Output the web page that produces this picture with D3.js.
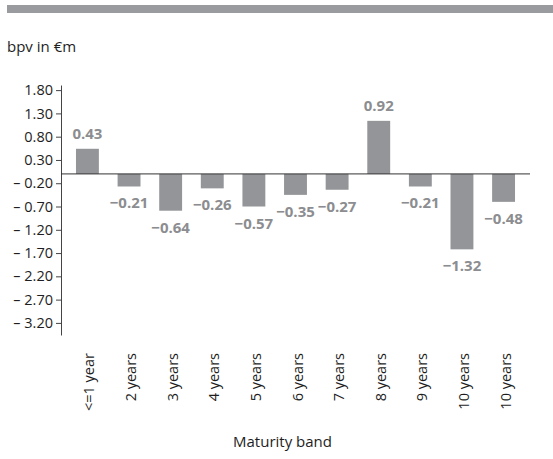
<!DOCTYPE html>
<html>
<head>
<meta charset="utf-8">
<script src="https://cdn.jsdelivr.net/npm/d3@7"></script>
<style>
  body { margin: 0; background: #fff; }
  svg { display: block; }
</style>
</head>
<body>
<div id="chart"></div>
<script>
// maturity bands
var bands = ['<=1 year', '2 years', '3 years', '4 years', '5 years', '6 years',
    '7 years', '8 years', '9 years', '10 years', '10 years'];
// printed value labels
var valueLabels = [0.43, -0.21, -0.64, -0.26, -0.57, -0.35, -0.27, 0.92, -0.21, -1.32, -0.48];
// bar heights as read against the y axis
var barValues = [0.54, -0.27, -0.79, -0.31, -0.70, -0.45, -0.34, 1.14, -0.27, -1.62, -0.60];
// y ticks
var yTicks = [1.8, 1.3, 0.8, 0.3, -0.2, -0.7, -1.2, -1.7, -2.2, -2.7, -3.2];

var _width = 553, _height = 459;
var _font = '"Open Sans", "Noto Sans", Arial, sans-serif';
var _barColor = '#939598';
var _textColor = '#1e1e1e';

var svg = d3.select('#chart').append('svg')
    .attr('width', _width)
    .attr('height', _height);

// top rule
svg.append('rect')
    .attr('x', 7).attr('y', 5)
    .attr('width', _width - 7).attr('height', 8)
    .style('fill', '#999b9e');

svg.append('text')
    .attr('x', 7).attr('y', 52)
    .attr('font-family', _font).attr('font-size', 15)
    .attr('fill', _textColor)
    .text('bpv in €m');

var x = d3.scaleBand()
    .domain(d3.range(bands.length))
    .range([61, 530])
    .paddingInner(0.45)
    .paddingOuter(0.36);

var y = d3.scaleLinear()
    .domain([-3.46, 1.91])
    .range([335, 85]);

function fmt(v) {
    return (v < 0 ? '\u2013 ' : '') + Math.abs(v).toFixed(2);
}

var yAxis = svg.append('g')
    .attr('transform', 'translate(61,0)')
    .call(d3.axisLeft(y).tickValues(yTicks).tickFormat(fmt).tickSize(5).tickPadding(3).tickSizeOuter(0));
yAxis.select('.domain').attr('stroke', '#444');
yAxis.selectAll('.tick line').attr('stroke', '#444');
yAxis.selectAll('text')
    .attr('font-family', _font).attr('font-size', 14.5)
    .attr('fill', _textColor);

// bars
svg.append('g').selectAll('rect')
    .data(barValues)
    .join('rect')
    .attr('x', function (d, i) { return x(i); })
    .attr('width', x.bandwidth())
    .attr('y', function (d) { return y(Math.max(0, d)); })
    .attr('height', function (d) { return Math.abs(y(d) - y(0)); })
    .style('fill', _barColor);

// zero line
svg.append('line')
    .attr('x1', 61).attr('x2', 530)
    .attr('y1', y(0)).attr('y2', y(0))
    .attr('stroke', '#333').attr('stroke-width', 1);

// value labels
svg.append('g').selectAll('text')
    .data(valueLabels)
    .join('text')
    .attr('x', function (d, i) { return x(i) + x.bandwidth() / 2; })
    .attr('y', function (d, i) {
        var b = barValues[i];
        return b >= 0 ? y(b) - 10 : y(b) + 22;
    })
    .attr('text-anchor', 'middle')
    .attr('font-family', _font).attr('font-size', 15)
    .attr('font-weight', 'bold')
    .attr('fill', '#8c8d90')
    .text(function (d) { return (d < 0 ? '\u2212' : '') + Math.abs(d).toFixed(2); });

// category labels
svg.append('g').selectAll('text')
    .data(bands)
    .join('text')
    .attr('transform', function (d, i) {
        return 'translate(' + (x(i) + x.bandwidth() / 2 + 7) + ',353)rotate(-90)';
    })
    .attr('text-anchor', 'end')
    .attr('font-family', _font).attr('font-size', 14.5)
    .attr('fill', _textColor)
    .text(function (d) { return d; });

svg.append('text')
    .attr('x', (61 + 530) / 2 - 13).attr('y', 447)
    .attr('text-anchor', 'middle')
    .attr('font-family', _font).attr('font-size', 15)
    .attr('fill', _textColor)
    .text('Maturity band');
</script>
</body>
</html>
